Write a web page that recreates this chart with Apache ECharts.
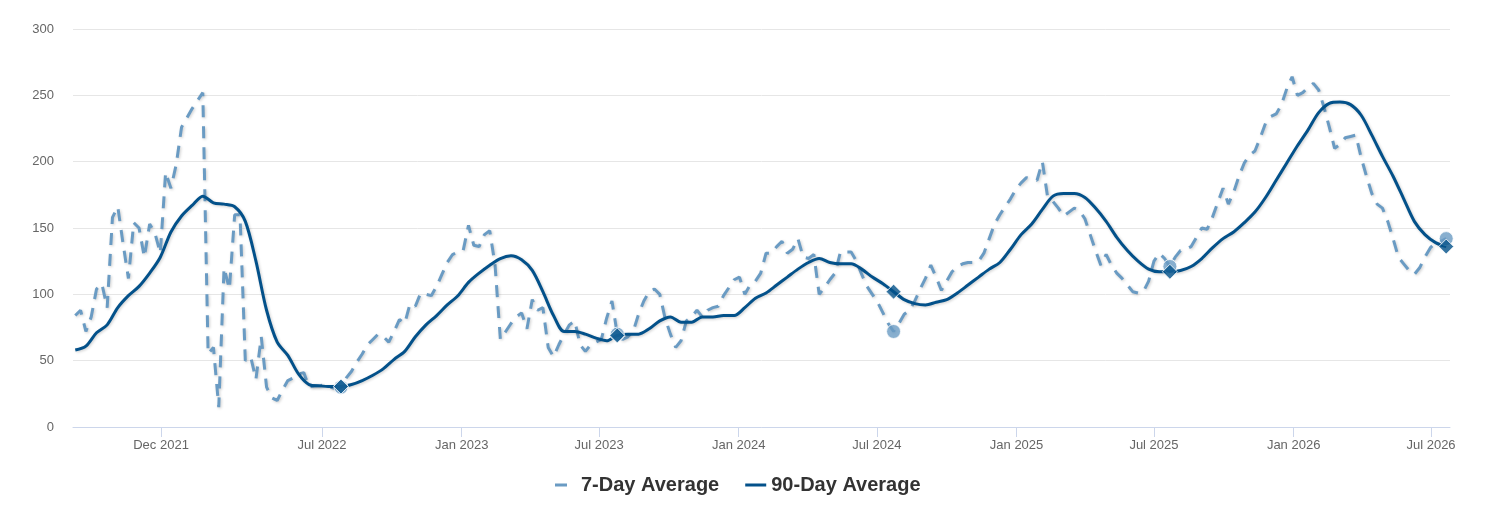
<!DOCTYPE html>
<html>
<head>
<meta charset="utf-8">
<title>7-Day and 90-Day Average</title>
<script src="https://cdn.jsdelivr.net/npm/echarts@6/dist/echarts.min.js"></script>
<style>
  html, body { margin: 0; padding: 0; background: #fff; }
  #main { width: 1485px; height: 507px; }
</style>
</head>
<body>
<div id="main"></div>
<script>
// weekly dates of the 7-day average
var weeks = [
  '2021-08-10','2021-08-17','2021-08-24','2021-08-31','2021-09-07','2021-09-14','2021-09-21','2021-09-28',
  '2021-10-05','2021-10-12','2021-10-19','2021-10-26','2021-11-02','2021-11-09','2021-11-16','2021-11-23',
  '2021-11-30','2021-12-07','2021-12-14','2021-12-21','2021-12-28',
  '2022-01-04','2022-01-11','2022-01-18','2022-01-25','2022-02-01','2022-02-08','2022-02-15','2022-02-22',
  '2022-03-01','2022-03-08','2022-03-15','2022-03-22','2022-03-29','2022-04-05','2022-04-12','2022-04-19',
  '2022-04-26','2022-05-03','2022-05-10','2022-05-17','2022-05-24','2022-05-31','2022-06-07','2022-06-14',
  '2022-06-21','2022-06-28','2022-07-05','2022-07-12','2022-07-19','2022-07-26','2022-08-02','2022-08-09',
  '2022-08-16','2022-08-23','2022-08-30','2022-09-06','2022-09-13','2022-09-20','2022-09-27','2022-10-04',
  '2022-10-11','2022-10-18','2022-10-25','2022-11-01','2022-11-08','2022-11-15','2022-11-22','2022-11-29',
  '2022-12-06','2022-12-13','2022-12-20','2022-12-27',
  '2023-01-03','2023-01-10','2023-01-17','2023-01-24','2023-01-31','2023-02-07','2023-02-14','2023-02-21',
  '2023-02-28','2023-03-07','2023-03-14','2023-03-21','2023-03-28','2023-04-04','2023-04-11','2023-04-18',
  '2023-04-25','2023-05-02','2023-05-09','2023-05-16','2023-05-23','2023-05-30','2023-06-06','2023-06-13',
  '2023-06-20','2023-06-27','2023-07-04','2023-07-11','2023-07-18','2023-07-25','2023-08-01','2023-08-08',
  '2023-08-15','2023-08-22','2023-08-29','2023-09-05','2023-09-12','2023-09-19','2023-09-26','2023-10-03',
  '2023-10-10','2023-10-17','2023-10-24','2023-10-31','2023-11-07','2023-11-14','2023-11-21','2023-11-28',
  '2023-12-05','2023-12-12','2023-12-19','2023-12-26',
  '2024-01-02','2024-01-09','2024-01-16','2024-01-23','2024-01-30','2024-02-06','2024-02-13','2024-02-20',
  '2024-02-27','2024-03-05','2024-03-12','2024-03-19','2024-03-26','2024-04-02','2024-04-09','2024-04-16',
  '2024-04-23','2024-04-30','2024-05-07','2024-05-14','2024-05-21','2024-05-28','2024-06-04','2024-06-11',
  '2024-06-18','2024-06-25','2024-07-02','2024-07-09','2024-07-16','2024-07-23','2024-07-30','2024-08-06',
  '2024-08-13','2024-08-20','2024-08-27','2024-09-03','2024-09-10','2024-09-17','2024-09-24','2024-10-01',
  '2024-10-08','2024-10-15','2024-10-22','2024-10-29','2024-11-05','2024-11-12','2024-11-19','2024-11-26',
  '2024-12-03','2024-12-10','2024-12-17','2024-12-24','2024-12-31',
  '2025-01-07','2025-01-14','2025-01-21','2025-01-28','2025-02-04','2025-02-11','2025-02-18','2025-02-25',
  '2025-03-04','2025-03-11','2025-03-18','2025-03-25','2025-04-01','2025-04-08','2025-04-15','2025-04-22',
  '2025-04-29','2025-05-06','2025-05-13','2025-05-20','2025-05-27','2025-06-03','2025-06-10','2025-06-17',
  '2025-06-24','2025-07-01','2025-07-08','2025-07-15','2025-07-22','2025-07-29','2025-08-05','2025-08-12',
  '2025-08-19','2025-08-26','2025-09-02','2025-09-09','2025-09-16','2025-09-23','2025-09-30','2025-10-07',
  '2025-10-14','2025-10-21','2025-10-28','2025-11-04','2025-11-11','2025-11-18','2025-11-25','2025-12-02',
  '2025-12-09','2025-12-16','2025-12-23','2025-12-30',
  '2026-01-06','2026-01-13','2026-01-20','2026-01-27','2026-02-03','2026-02-10','2026-02-17','2026-02-24',
  '2026-03-03','2026-03-10','2026-03-17','2026-03-24','2026-03-31','2026-04-07','2026-04-14','2026-04-21',
  '2026-04-28','2026-05-05','2026-05-12','2026-05-19','2026-05-26','2026-06-02','2026-06-09','2026-06-16',
  '2026-06-23','2026-06-30','2026-07-07','2026-07-14','2026-07-21'
];

// one value per week
var sevenDay = [
  84, 88, 72, 83, 104, 108, 90, 158, 166, 138, 112, 154, 150, 128, 153, 146, 131, 192, 180, 198, 226,
  233, 240, 246, 252, 55, 60, 15, 120, 104, 160, 160, 50, 53, 36, 68, 30, 22, 20, 28, 35, 37, 40, 41, 30, 31, 31, 32, 30, 29, 30,
  37, 42, 49, 55, 62, 66, 70, 68, 64, 72, 81, 78, 93, 91, 101, 100, 99, 106, 115, 124, 130, 132, 133, 152, 137, 136, 145, 148, 122,
  66, 72, 78, 83, 86, 74, 96, 88, 90, 60, 53, 62, 70, 77, 80, 62, 57, 62, 64, 66, 82, 95, 70, 66,
  68, 72, 85, 95, 102, 104, 100, 82, 70, 60, 65, 80, 83, 88, 83, 88, 90, 91, 99, 105, 111, 113, 100, 107, 110, 116,
  131, 131, 136, 140, 131, 134, 142, 128, 127, 130, 100, 105, 111, 116, 132, 132, 132, 125, 115, 106, 100, 94, 86, 78, 72, 78, 85,
  88, 95, 104, 112, 122, 113, 103, 110, 117, 121, 123, 124, 124, 125, 131, 142, 153, 160, 166, 172,
  179, 184, 188, 187, 186, 200, 173, 170, 165, 159, 162, 165, 163, 157, 145, 133, 122, 130, 122, 116,
  112, 107, 102, 101, 102, 110, 125, 131, 127, 121, 128, 133, 134, 136, 143, 150, 149, 158, 169, 180,
  168, 177, 189, 199, 205, 208, 218, 229, 234, 236, 243, 255, 264, 250, 252, 256, 259, 254, 241, 226,
  210, 213, 218, 219, 220, 203, 189, 176, 168, 165, 155, 142, 128, 123, 118, 115, 120, 128, 135, 139, 140, 142
];

// one value every second week (weeks[0], weeks[2], ...)
var ninetyDay = [
  58, 61, 71, 77, 90, 99, 106, 116, 128, 147, 159, 167, 174, 169, 168, 166, 155, 125, 88, 64, 54, 40, 32, 31, 30.5, 30.5,
  32, 35, 39, 44, 51, 57, 68, 77, 84, 92, 99, 109, 116, 122, 127, 129, 126, 118, 102, 84, 72, 72, 70, 67, 65, 69,
  70, 70, 74, 80, 83, 79, 79, 83, 83, 84, 84, 90, 97, 101, 107, 113, 119, 124, 127, 124, 123, 123, 119, 113, 108, 102,
  96, 93, 92, 94, 96, 101, 107, 113, 119, 124, 134, 145, 153, 164, 174, 176, 176, 173, 165, 155, 143, 133, 125, 119, 117, 117,
  118, 121, 127, 135, 142, 147, 154, 162, 173, 186, 199, 212, 224, 237, 244, 245, 243, 235, 220, 204, 189, 172, 155, 145, 139, 136
];

var xTicks = ['2021-12-01', '2022-07-01', '2023-01-01', '2023-07-01', '2024-01-01',
              '2024-07-01', '2025-01-01', '2025-07-01', '2026-01-01', '2026-07-01'];
var xRange = ['2021-08-07', '2026-07-26'];
var yTicks = [0, 50, 100, 150, 200, 250, 300];
var markerDates = ['2022-07-26', '2023-07-25', '2024-07-23', '2025-07-22', '2026-07-21'];

var monthNames = ['Jan','Feb','Mar','Apr','May','Jun','Jul','Aug','Sep','Oct','Nov','Dec'];
var lightBlue = '#6a9bc3';
var darkBlue = '#03518a';
var font = '"Liberation Sans", Arial, sans-serif';

function ts(d) { return echarts.time.parse(d).getTime(); }

var sevenData = weeks.map(function (d, i) { return [ts(d), sevenDay[i]]; });
var ninetyData = ninetyDay.map(function (v, k) { return [ts(weeks[k * 2]), v]; });
var circleData = markerDates.map(function (d) { return [ts(d), sevenDay[weeks.indexOf(d)]]; });
var diamondData = markerDates.map(function (d) { return [ts(d), ninetyDay[weeks.indexOf(d) / 2]]; });
var tickValues = xTicks.map(ts);

var chart = echarts.init(document.getElementById('main'), null, { renderer: 'canvas' });
chart.setOption({
  backgroundColor: '#fff',
  animation: false,
  textStyle: { fontFamily: font },
  grid: { left: 73, right: 35, top: 29, bottom: 80, containLabel: false },
  legend: {
    data: [
      // a 12px dash in a 21px wide icon box (the tiny second piece only widens the box)
      { name: '7-Day Average', icon: 'path://M0,0H12V3H0Z M20,0H21V0.01H20Z' },
      { name: '90-Day Average', icon: 'rect' }
    ],
    left: 550,
    top: 470,
    itemWidth: 21,
    itemHeight: 3,
    itemGap: 26,
    textStyle: { fontSize: 20, fontWeight: 'bold', color: '#333', fontFamily: font }
  },
  xAxis: {
    type: 'value',
    min: ts(xRange[0]),
    max: ts(xRange[1]),
    axisLine: { lineStyle: { color: '#ccd6eb', width: 1 } },
    axisTick: { show: true, length: 10, lineStyle: { color: '#ccd6eb' }, customValues: tickValues },
    axisLabel: {
      customValues: tickValues,
      margin: 12,
      fontSize: 13,
      color: '#666',
      fontFamily: font,
      formatter: function (v) {
        var d = new Date(v);
        return monthNames[d.getMonth()] + ' ' + d.getFullYear();
      }
    },
    splitLine: { show: false }
  },
  yAxis: {
    type: 'value',
    min: yTicks[0],
    max: yTicks[yTicks.length - 1],
    interval: 50,
    axisLine: { show: false },
    axisTick: { show: false },
    axisLabel: { fontSize: 13, color: '#666', margin: 19, fontFamily: font },
    splitLine: { lineStyle: { color: '#e6e6e6', width: 1 } }
  },
  series: [
    {
      name: '7-Day Average',
      type: 'line',
      data: sevenData,
      symbol: 'none',
      color: lightBlue,
      itemStyle: { color: lightBlue },
      lineStyle: {
        color: lightBlue, width: 3, type: [12, 9], cap: 'butt',
        shadowColor: 'rgba(0,0,0,0.2)', shadowBlur: 3, shadowOffsetX: 1, shadowOffsetY: 1
      },
      z: 2
    },
    {
      name: '90-Day Average',
      type: 'line',
      data: ninetyData,
      symbol: 'none',
      smooth: 0.3,
      color: darkBlue,
      itemStyle: { color: darkBlue },
      lineStyle: {
        color: darkBlue, width: 3,
        shadowColor: 'rgba(0,0,0,0.2)', shadowBlur: 3, shadowOffsetX: 1, shadowOffsetY: 1
      },
      z: 3
    },
    {
      name: '7-Day markers',
      type: 'scatter',
      data: circleData,
      symbol: 'circle',
      symbolSize: 14,
      itemStyle: { color: lightBlue, borderColor: '#fff', borderWidth: 1 },
      z: 4
    },
    {
      name: '90-Day markers',
      type: 'scatter',
      data: diamondData,
      symbol: 'diamond',
      symbolSize: 15,
      itemStyle: { color: darkBlue, borderColor: '#fff', borderWidth: 1 },
      z: 5
    }
  ]
});
</script>
</body>
</html>
